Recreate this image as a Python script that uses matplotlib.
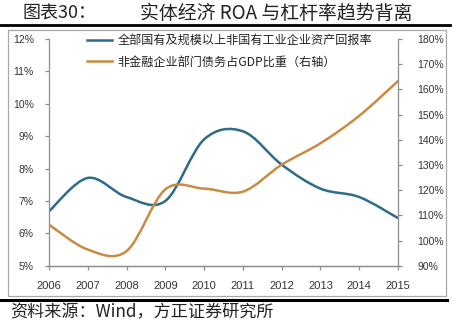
import matplotlib
matplotlib.use("Agg")
import matplotlib.pyplot as plt
from matplotlib.path import Path
from matplotlib.patches import PathPatch, Rectangle
from matplotlib.lines import Line2D
from matplotlib.ticker import FuncFormatter, MultipleLocator

plt.rcParams['font.family'] = ['Noto Sans CJK SC', 'DejaVu Sans']

years = [2006, 2007, 2008, 2009, 2010, 2011, 2012, 2013, 2014, 2015]
roa = [6.68, 7.71, 7.12, 7.0, 8.9, 9.15, 8.12, 7.38, 7.12, 6.47]
debt_gdp = [106.3, 96.4, 95.8, 120.3, 120.6, 119.4, 130.1, 138.6, 149.5, 163.3]

label_roa = '全部国有及规模以上非国有工业企业资产回报率'
label_debt = '非金融企业部门债务占GDP比重（右轴）'
title_left = '图表30：'
title_main = '实体经济 ROA 与杠杆率趋势背离'
source = '资料来源：Wind，方正证券研究所'

c_blue = '#2d6b88'
c_orange = '#c98b43'
c_axis = '#8c8c8c'


def smooth_path(x, y):
    verts = [(x[0], y[0])]
    codes = [Path.MOVETO]
    n = len(x)
    for i in range(n - 1):
        x0, y0 = (x[i - 1], y[i - 1]) if i > 0 else (x[i], y[i])
        x3, y3 = (x[i + 2], y[i + 2]) if i + 2 < n else (x[i + 1], y[i + 1])
        c1 = (x[i] + (x[i + 1] - x0) / 6.0, y[i] + (y[i + 1] - y0) / 6.0)
        c2 = (x[i + 1] - (x3 - x[i]) / 6.0, y[i + 1] - (y3 - y[i]) / 6.0)
        verts += [c1, c2, (x[i + 1], y[i + 1])]
        codes += [Path.CURVE4] * 3
    return Path(verts, codes)


fig = plt.figure(figsize=(4.53, 3.31), dpi=100)
fig.patch.set_facecolor('white')

W, H = 453.0, 331.0
ax = fig.add_axes([49 / W, 1 - 265.7 / H, (398 - 49) / W, (265.7 - 39) / H])
ax2 = ax.twinx()

ax.add_patch(PathPatch(smooth_path(years, roa), facecolor='none', edgecolor=c_blue,
                       lw=1.8, capstyle='round', joinstyle='round'))
ax2.add_patch(PathPatch(smooth_path(years, debt_gdp), facecolor='none', edgecolor=c_orange,
                        lw=1.8, capstyle='round', joinstyle='round'))

ax.set_xlim(2006, 2015)
ax.set_ylim(5, 12)
ax2.set_ylim(90, 180)
ax.set_xticks(years)
ax.set_xticklabels([str(y) for y in years])
ax.yaxis.set_major_locator(MultipleLocator(1))
ax2.yaxis.set_major_locator(MultipleLocator(10))
ax.yaxis.set_major_formatter(FuncFormatter(lambda v, p: f'{v:.0f}%'))
ax2.yaxis.set_major_formatter(FuncFormatter(lambda v, p: f'{v:.0f}%'))

for a in (ax, ax2):
    a.set_facecolor('none')
    a.spines['top'].set_visible(False)
    for s in ('left', 'right', 'bottom'):
        a.spines[s].set_color(c_axis)
        a.spines[s].set_linewidth(0.9)
    a.tick_params(colors=c_axis, length=3, width=0.9, direction='out',
                  labelcolor='#333333', labelsize=7.5)
    for lab in a.get_xticklabels() + a.get_yticklabels():
        lab.set_family(['Liberation Sans', 'DejaVu Sans'])
ax.tick_params(axis='x', pad=8, labelsize=8)
ax.tick_params(axis='y', pad=8)
ax2.tick_params(axis='y', pad=11)
ax2.spines['left'].set_visible(False)
ax.spines['right'].set_visible(False)

handles = [Line2D([], [], color=c_blue, lw=1.8), Line2D([], [], color=c_orange, lw=1.8)]
fig.legend(handles, [label_roa, label_debt], loc='upper left',
           bbox_to_anchor=(87 / W, 1 - 34 / H), frameon=False, prop={'size': 8.7},
           handlelength=2.1, handletextpad=0.45, labelspacing=0.72,
           borderpad=0, borderaxespad=0, labelcolor='#222222')

# chart frame
fig.add_artist(Rectangle((8 / W, 1 - 296 / H), (446 - 8) / W, (296 - 30) / H,
                         transform=fig.transFigure, fill=False, edgecolor='#a8a8a8', lw=0.9))
# heavy rules
fig.add_artist(Line2D([0, 450 / W], [1 - 24.5 / H] * 2, transform=fig.transFigure,
                      color='black', lw=2.0))
fig.add_artist(Line2D([0, 447 / W], [1 - 299.5 / H] * 2, transform=fig.transFigure,
                      color='black', lw=2.2))

fig.text(22 / W, 1 - 13.5 / H, title_left, fontsize=13, va='center', ha='left', color='#222222')
fig.text(140 / W, 1 - 13.5 / H, title_main, fontsize=13.6, va='center', ha='left', color='#222222')
fig.text(10 / W, 1 - 312.5 / H, source, fontsize=12.3, va='center', ha='left', color='#222222',
         style='italic')

fig.savefig('out.png', dpi=100, facecolor='white')
